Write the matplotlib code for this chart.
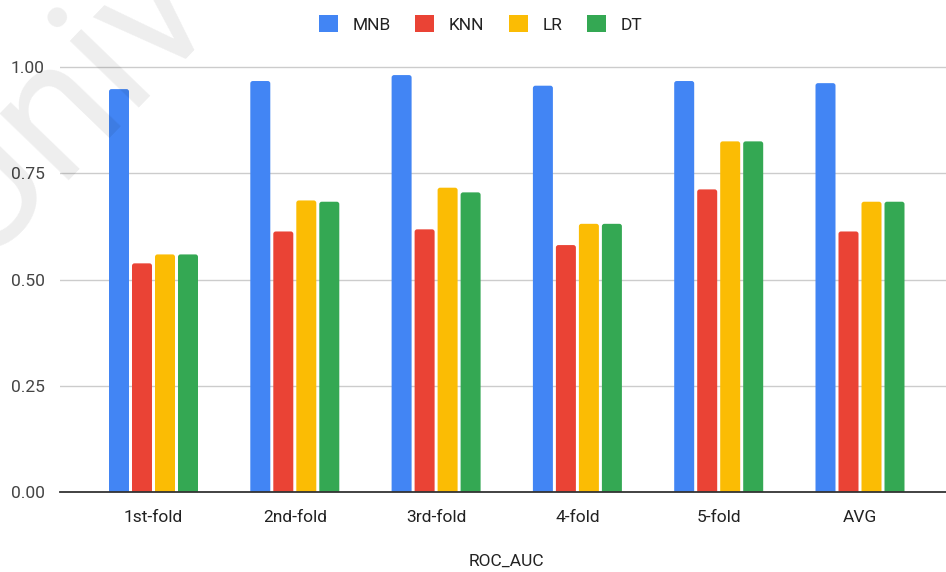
import matplotlib
matplotlib.use("Agg")
import matplotlib.pyplot as plt
from matplotlib.patches import FancyBboxPatch, Patch
import numpy as np

plt.rcParams['font.family'] = ['Roboto', 'DejaVu Sans']

folds = ["1st-fold", "2nd-fold", "3rd-fold", "4-fold", "5-fold", "AVG"]
mnb = [0.948, 0.967, 0.981, 0.956, 0.967, 0.962]
knn = [0.538, 0.613, 0.618, 0.581, 0.712, 0.613]
lr = [0.559, 0.686, 0.716, 0.631, 0.825, 0.683]
dt = [0.559, 0.683, 0.705, 0.631, 0.825, 0.683]
series_names = ["MNB", "KNN", "LR", "DT"]
series_colors = ["#4285F4", "#EA4335", "#FBBC04", "#34A853"]
y_ticks = [0.0, 0.25, 0.5, 0.75, 1.0]
x_title = "ROC_AUC"

W, H = 946, 572
fig = plt.figure(figsize=(W / 100, H / 100), dpi=100)

# plot area in pixels: left 60, right 946, zero line at 492, 425 px per unit
y_top = 1.02
px_per_unit = 425.0
ax_left, ax_right = 60, 946
ax_bottom = 492
ax_height = px_per_unit * y_top
ax = fig.add_axes([ax_left / W, 1 - ax_bottom / H,
                   (ax_right - ax_left) / W, ax_height / H])

cat_px = 141.3
first_center_px = 153.5
x_lo = (ax_left - first_center_px) / cat_px
x_hi = (ax_right - first_center_px) / cat_px
ax.set_xlim(x_lo, x_hi)
ax.set_ylim(0, y_top)

x = np.arange(len(folds))
bar_w = 20 / cat_px
pitch = 23 / cat_px
series = [mnb, knn, lr, dt]

# rounded corners: radius in x-data units, aspect converts to y-units
r_px = 2.5
r_x = r_px / cat_px
aspect = cat_px / px_per_unit
for i, (vals, col) in enumerate(zip(series, series_colors)):
    offs = (i - 1.5) * pitch
    bars = ax.bar(x + offs, vals, width=bar_w, color=col, zorder=3)
    for rect in bars:
        rect.set_visible(False)
        bx, by = rect.get_xy()
        bw, bh = rect.get_width(), rect.get_height()
        ext = r_px / px_per_unit
        p = FancyBboxPatch((bx, by - ext), bw, bh + ext,
                           boxstyle=f"round,pad=0,rounding_size={r_x}",
                           mutation_aspect=aspect,
                           facecolor=col, edgecolor="none", zorder=3)
        ax.add_patch(p)

ax.set_yticks(y_ticks)
ax.set_yticklabels([f"{v:.2f}" for v in y_ticks])
ax.set_xticks(x)
ax.set_xticklabels(folds)
ax.tick_params(axis='y', length=0, pad=11, labelsize=12.5, labelcolor="#444444")
ax.tick_params(axis='x', length=0, pad=13, labelsize=12.5, labelcolor="#222222")

for v in y_ticks[1:]:
    ax.axhline(v, color="#cccccc", lw=1.0, zorder=1)
for s in ["top", "right", "left"]:
    ax.spines[s].set_visible(False)
ax.spines["bottom"].set_color("#333333")
ax.spines["bottom"].set_linewidth(1.3)
ax.spines["bottom"].set_zorder(4)

# axis title centred about 69 px below the zero line
ax.set_xlabel(x_title, fontsize=12.5, color="#222222")
ax.xaxis.set_label_coords(0.5 - (ax_left + (ax_right - ax_left) / 2 - 506) / (ax_right - ax_left),
                          -69 / ax_height)
ax.xaxis.label.set_va("center")

handles = [Patch(facecolor=c, edgecolor="none") for c in series_colors]
fig.legend(handles, series_names, loc="center", bbox_to_anchor=(0.508, 0.958),
           ncol=4, frameon=False, fontsize=12.5, handlelength=1.1,
           handleheight=1.1, handletextpad=0.85, columnspacing=1.4,
           labelcolor="#222222")

# faint diagonal watermark in the upper-left corner
fig.text(-0.025, 0.54, "Univ", rotation=46, rotation_mode="anchor",
         ha="left", va="baseline", fontsize=130, color="#000000",
         alpha=0.07, zorder=10, family=["Roboto", "DejaVu Sans"])

fig.savefig("out.png", dpi=100)
